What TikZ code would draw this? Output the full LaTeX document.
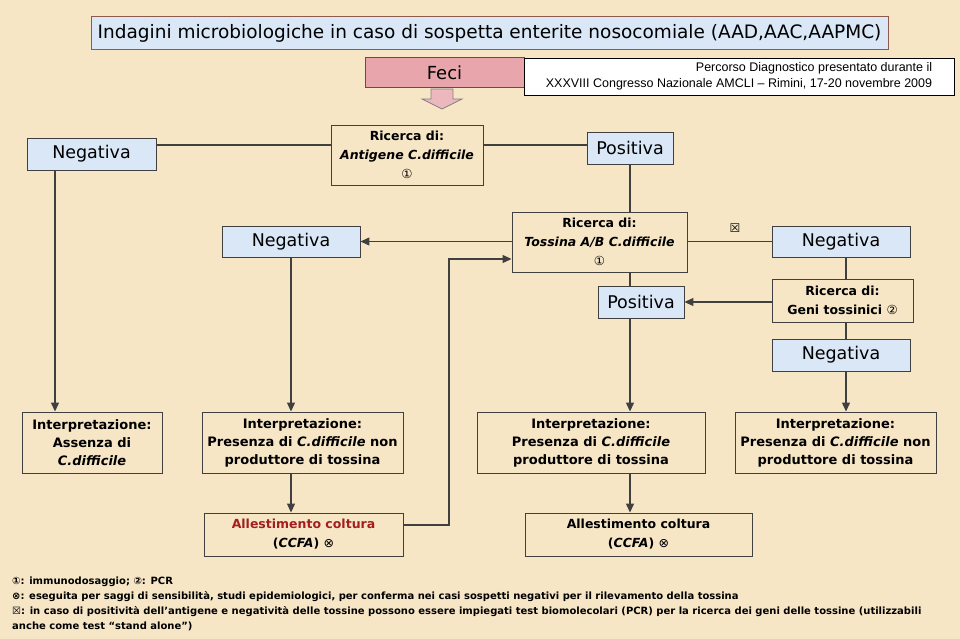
\documentclass[tikz,border=0pt]{standalone}
\usepackage{fontspec}
\setmainfont{DejaVu Sans}
\newfontfamily\notefont{Liberation Sans}
\usetikzlibrary{arrows.meta}

\definecolor{paper}{HTML}{F6E6C6}
\definecolor{pale}{HTML}{D9E7F7}
\definecolor{rosa}{HTML}{E8A6AC}
\definecolor{rosso}{HTML}{9E3438}
\definecolor{bruno}{HTML}{8E5A4C}
\definecolor{cupo}{HTML}{A51E1E}
\definecolor{riga}{HTML}{404040}

\tikzset{
  titlebox/.style={draw=bruno, fill=pale, line width=1pt, inner sep=0pt,
    font=\fontsize{18.5}{20}\selectfont},
  fecibox/.style={draw=rosso, fill=rosa, line width=1pt, inner sep=0pt,
    font=\fontsize{18}{20}\selectfont},
  notebox/.style={draw=black, fill=white, line width=0.8pt, inner sep=0pt,
    align=right, font=\notefont\fontsize{12.5}{16}\selectfont},
  blubox/.style={draw=riga, fill=pale, line width=0.9pt, inner sep=0pt,
    font=\fontsize{17.5}{20}\selectfont},
  ricbox/.style={draw=riga, line width=0.9pt, inner sep=0pt, align=center,
    font=\bfseries\fontsize{12.5}{19}\selectfont},
  interpbox/.style={draw=riga, line width=0.9pt, inner sep=0pt, align=center,
    minimum height=61, font=\bfseries\fontsize{13}{18}\selectfont},
  link/.style={draw=riga, line width=1.2pt},
  arr/.style={link, -{Triangle[length=9pt,width=8pt]}}
}

\begin{document}
\begin{tikzpicture}[x=1pt,y=-1pt]
\useasboundingbox (0,0) rectangle (960,639);
\fill[paper] (0,0) rectangle (960,639);

% intestazione
\node[titlebox, minimum width=797, minimum height=33] (titolo) at (489.5,33.5)
  {Indagini microbiologiche in caso di sospetta enterite nosocomiale (AAD,AAC,AAPMC)};
\node[fecibox, minimum width=159, minimum height=30] (feci) at (444.5,73) {Feci};
\node[notebox, minimum width=430, minimum height=37] (nota) at (739,76.5)
  {Percorso Diagnostico presentato durante il\\
   XXXVIII Congresso Nazionale AMCLI – Rimini, 17-20 novembre 2009};
\filldraw[fill=rosa!80, draw=gray, line width=0.8pt]
  (431,89) -- (453,89) -- (453,99) -- (462,99) -- (442,109) -- (422,99) -- (431,99) -- cycle;

% primo livello
\node[blubox, minimum width=129, minimum height=32] (neg1) at (91.5,154) {Negativa};
\node[ricbox, minimum width=152, minimum height=60] (antig) at (407,155)
  {Ricerca di:\\ \itshape Antigene C.difficile\\ \normalfont ①};
\node[blubox, minimum width=86, minimum height=32] (pos1) at (630,148) {Positiva};

% secondo livello
\node[blubox, minimum width=138, minimum height=31] (neg2) at (291,241.5) {Negativa};
\node[ricbox, minimum width=175, minimum height=60] (toss) at (599.5,242)
  {Ricerca di:\\ \itshape Tossina A/B C.difficile\\ \normalfont ①};
\node[font=\fontsize{12}{12}\selectfont] (xbox) at (735,228) {☒};
\node[blubox, minimum width=138, minimum height=31] (neg3) at (841,241.5) {Negativa};
\node[ricbox, minimum width=141, minimum height=43] (geni) at (842.5,300.5)
  {Ricerca di:\\ Geni tossinici \mdseries ②};
\node[blubox, minimum width=86, minimum height=32] (pos2) at (641,302) {Positiva};
\node[blubox, minimum width=138, minimum height=32] (neg4) at (841,355) {Negativa};

% interpretazioni
\node[interpbox, minimum width=140] (interp1) at (92,442.5)
  {Interpretazione:\\ Assenza di\\ \itshape C.difficile};
\node[interpbox, minimum width=201] (interp2) at (302.5,442.5)
  {Interpretazione:\\ Presenza di {\itshape C.difficile} non\\ produttore di tossina};
\node[interpbox, minimum width=228] (interp3) at (591,442.5)
  {Interpretazione:\\ Presenza di {\itshape C.difficile}\\ produttore di tossina};
\node[interpbox, minimum width=201] (interp4) at (835.5,442.5)
  {Interpretazione:\\ Presenza di {\itshape C.difficile} non\\ produttore di tossina};

% colture
\node[ricbox, minimum width=199, minimum height=43] (allest1) at (303.5,534.5)
  {\textcolor{cupo}{Allestimento coltura}\\ ({\itshape CCFA}) \mdseries ⊗};
\node[ricbox, minimum width=227, minimum height=43] (allest2) at (638.5,534.5)
  {Allestimento coltura\\ ({\itshape CCFA}) \mdseries ⊗};

% collegamenti
\coordinate (row1) at (0,145);
\coordinate (row5) at (0,525);
\coordinate (col1) at (55,0);
\coordinate (col2) at (291,0);
\coordinate (col3) at (630,0);
\coordinate (col4) at (846,0);
\coordinate (ritorno) at (449,259);
\draw[link] (neg1.east |- row1) -- (antig.west |- row1);
\draw[link] (antig.east |- row1) -- (pos1.west |- row1);
\draw[link] (pos1.south) -- (pos1.south |- toss.north);
\draw[arr] (neg1.south -| col1) -- (interp1.north -| col1);
\draw[arr] (toss.west |- neg2) -- (neg2.east);
\draw[arr] (neg2.south -| col2) -- (interp2.north -| col2);
\draw[arr] (interp2.south -| col2) -- (allest1.north -| col2);
\draw[arr] (allest1.east |- row5) -| (ritorno) -- (toss.west |- ritorno);
\draw[link] (toss.east |- neg3) -- (neg3.west);
\draw[link] (neg3.south -| col4) -- (geni.north -| col4);
\draw[arr] (geni.west |- pos2) -- (pos2.east);
\draw[link] (geni.south -| col4) -- (neg4.north -| col4);
\draw[arr] (neg4.south -| col4) -- (interp4.north -| col4);
\draw[link] (toss.south -| col3) -- (pos2.north -| col3);
\draw[arr] (pos2.south -| col3) -- (interp3.north -| col3);
\draw[arr] (interp3.south -| col3) -- (allest2.north -| col3);

% legenda
\node[anchor=north west, align=left, inner sep=0pt,
  font=\bfseries\fontsize{10}{15}\selectfont] (legenda) at (12,577)
  {①: immunodosaggio; ②: PCR\\
   ⊗: eseguita per saggi di sensibilità, studi epidemiologici, per conferma nei casi sospetti negativi per il rilevamento della tossina\\
   ☒: in caso di positività dell’antigene e negatività delle tossine possono essere impiegati test biomolecolari (PCR) per la ricerca dei geni delle tossine (utilizzabili\\
   anche come test “stand alone”)};
\end{tikzpicture}
\end{document}
